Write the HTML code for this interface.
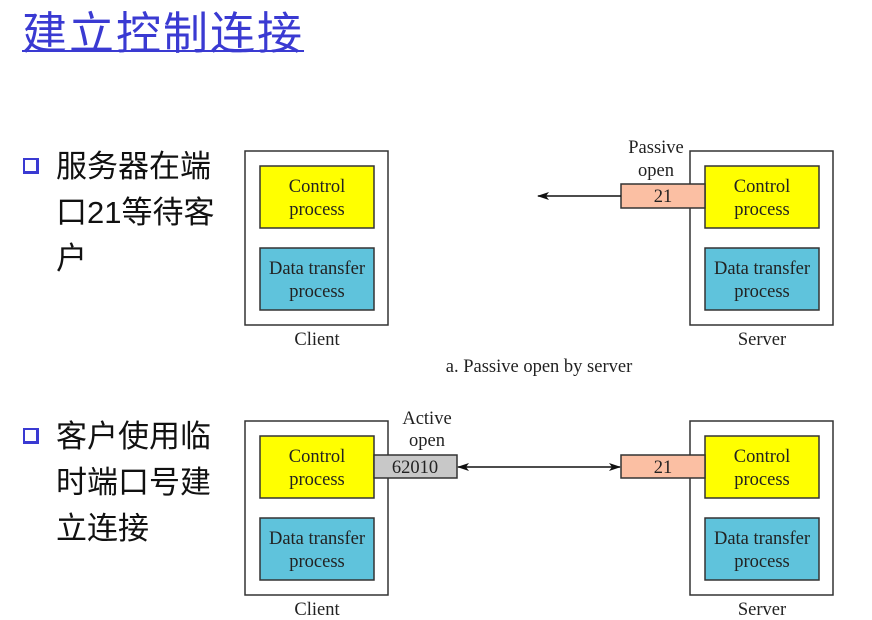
<!DOCTYPE html>
<html><head><meta charset="utf-8"><style>
body{margin:0;width:872px;height:620px;background:#fff;overflow:hidden;position:relative;font-family:"Liberation Sans","Noto Sans CJK SC",sans-serif}
.t{position:absolute;left:22px;top:4px;font-size:45px;color:#3a3ad2;font-family:"Liberation Sans","Noto Sans CJK SC",sans-serif;text-decoration:underline;text-decoration-thickness:2px;line-height:60px;letter-spacing:2px}
.b{position:absolute;left:56px;font-size:31px;line-height:46px;color:#111;width:160px}
.sq{position:absolute;left:23px;width:11px;height:11px;border:2px solid #3a3ad2;border-right-width:3px;border-bottom-width:3px}
svg{position:absolute;left:0;top:0}
</style></head><body>
<div class="t">建立控制连接</div>
<div class="sq" style="top:158px"></div>
<div class="b" style="top:144px">服务器在端口21等待客户</div>
<div class="sq" style="top:428px"></div>
<div class="b" style="top:414px">客户使用临时端口号建立连接</div>
<svg width="872" height="620" font-family="Liberation Serif,serif" font-size="18.5" text-anchor="middle" fill="#222">
<defs><marker id="a" markerWidth="12" markerHeight="8" refX="11" refY="4" orient="auto-start-reverse" markerUnits="userSpaceOnUse"><path d="M0,0L12,4L0,8L3,4z" fill="#111"/></marker></defs>
<g stroke="#333" stroke-width="1.5">
<rect x="245" y="151" width="143" height="174" fill="#fff"/>
<rect x="690" y="151" width="143" height="174" fill="#fff"/>
<rect x="245" y="421" width="143" height="174" fill="#fff"/>
<rect x="690" y="421" width="143" height="174" fill="#fff"/>
<rect x="260" y="166" width="114" height="62" fill="#ffff00"/>
<rect x="260" y="248" width="114" height="62" fill="#5fc3dc"/>
<rect x="705" y="166" width="114" height="62" fill="#ffff00"/>
<rect x="705" y="248" width="114" height="62" fill="#5fc3dc"/>
<rect x="260" y="436" width="114" height="62" fill="#ffff00"/>
<rect x="260" y="518" width="114" height="62" fill="#5fc3dc"/>
<rect x="705" y="436" width="114" height="62" fill="#ffff00"/>
<rect x="705" y="518" width="114" height="62" fill="#5fc3dc"/>
<rect x="621" y="184" width="84" height="24" fill="#fbbfa3"/>
<rect x="621" y="455" width="84" height="23" fill="#fbbfa3"/>
<rect x="374" y="455" width="83" height="23" fill="#c8c8c8"/>
<line x1="621" y1="196" x2="538" y2="196" stroke="#111" marker-end="url(#a)"/>
<line x1="458" y1="467" x2="620" y2="467" stroke="#111" marker-start="url(#a)" marker-end="url(#a)"/>
</g>
<text x="317" y="192">Control</text><text x="317" y="215">process</text>
<text x="317" y="274">Data transfer</text><text x="317" y="297">process</text>
<text x="762" y="192">Control</text><text x="762" y="215">process</text>
<text x="762" y="274">Data transfer</text><text x="762" y="297">process</text>
<text x="317" y="462">Control</text><text x="317" y="485">process</text>
<text x="317" y="544">Data transfer</text><text x="317" y="567">process</text>
<text x="762" y="462">Control</text><text x="762" y="485">process</text>
<text x="762" y="544">Data transfer</text><text x="762" y="567">process</text>
<text x="663" y="202">21</text><text x="663" y="473">21</text><text x="415" y="473">62010</text>
<text x="656" y="153">Passive</text><text x="656" y="176">open</text>
<text x="427" y="424">Active</text><text x="427" y="446">open</text>
<text x="317" y="345">Client</text><text x="762" y="345">Server</text>
<text x="539" y="372">a. Passive open by server</text>
<text x="317" y="615">Client</text><text x="762" y="615">Server</text>
</svg>
</body></html>
